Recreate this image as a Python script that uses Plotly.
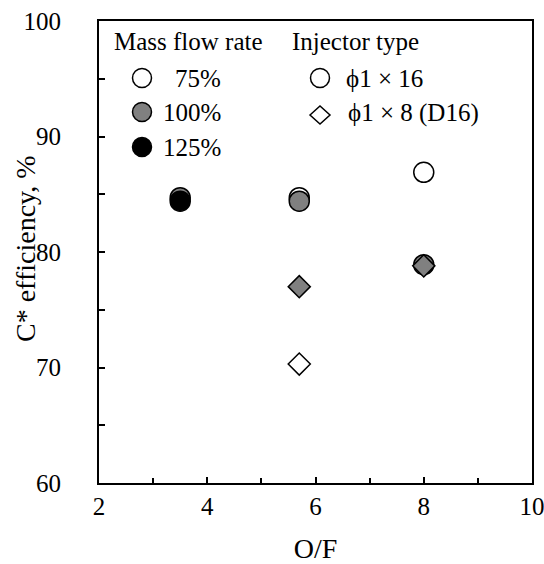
import plotly.graph_objects as go

# Injector phi1x16 (circles)
of_75_c = [5.7, 8.0]
eff_75_c = [84.7, 86.9]
of_100_c = [3.5, 5.7, 8.0]
eff_100_c = [84.7, 84.4, 78.9]
of_125_c = [3.5]
eff_125_c = [84.4]
# Injector phi1x8 (D16) (diamonds)
of_75_d = [5.7]
eff_75_d = [70.3]
of_100_d = [5.7, 8.0]
eff_100_d = [77.0, 78.8]

FONT = "Liberation Serif"
FS = 25
FT = 28
fig = go.Figure()

def add(x, y, sym, fill, size):
    fig.add_trace(go.Scatter(x=x, y=y, mode="markers", showlegend=False,
                             marker=dict(symbol=sym, size=size, color=fill,
                                         line=dict(color="black", width=1.5))))

add(of_75_c, eff_75_c, "circle", "white", 20)
add(of_100_c, eff_100_c, "circle", "#808080", 20)
add(of_125_c, eff_125_c, "circle", "black", 20)
add(of_75_d, eff_75_d, "diamond", "white", 17)
add(of_100_d, eff_100_d, "diamond", "#808080", 17)

fig.update_xaxes(range=[2, 10], tickmode="array", tickvals=[2, 4, 6, 8, 10],
                 ticks="inside", ticklen=6, tickwidth=1.5, tickcolor="black",
                 minor=dict(tickvals=[3, 5, 7, 9], ticks="inside", ticklen=5, tickwidth=1.5, tickcolor="black"),
                 showline=True, linecolor="black", linewidth=2, mirror=True,
                 showgrid=False, zeroline=False, ticklabelstandoff=0, automargin=False,
                 ticklabeloverflow="allow",
                 title=dict(text="O/F", font=dict(family=FONT, size=FT, color="black"), standoff=22),
                 tickfont=dict(family=FONT, size=FS, color="black"))
fig.update_yaxes(range=[60, 100], tickmode="array", tickvals=[60, 70, 80, 90, 100],
                 ticks="inside", ticklen=6, tickwidth=1.5, tickcolor="black",
                 minor=dict(tickvals=[65, 75, 85, 95], ticks="inside", ticklen=6, tickwidth=1.5, tickcolor="black"),
                 showline=True, linecolor="black", linewidth=2, mirror=True,
                 showgrid=False, zeroline=False, ticklabelstandoff=31, automargin=False,
                 ticklabeloverflow="allow",
                 tickfont=dict(family=FONT, size=FS, color="black"))

# Legend drawn as shapes + annotations (pixel positions converted to paper coords)
L, R, T, B = 99, 532, 21, 483
W, H = R - L, B - T
def px(x):
    return (x - L) / W
def py(y):
    return (B - y) / H

shapes = []
def circ(cx, cy, fill, r=9.5):
    shapes.append(dict(type="circle", xref="paper", yref="paper",
                       x0=px(cx - r), x1=px(cx + r), y0=py(cy + r), y1=py(cy - r),
                       fillcolor=fill, line=dict(color="black", width=1.5)))
def diam(cx, cy, rx=10, ry=9):
    path = "M {x0} {ym} L {xm} {y0} L {x1} {ym} L {xm} {y1} Z".format(
        x0=px(cx - rx), x1=px(cx + rx), xm=px(cx), ym=py(cy), y0=py(cy - ry), y1=py(cy + ry))
    shapes.append(dict(type="path", xref="paper", yref="paper", path=path,
                       fillcolor="white", line=dict(color="black", width=1.5)))

circ(142, 78, "white")
circ(142, 112, "#808080")
circ(142, 147, "black")
circ(320, 78, "white")
diam(320, 115)

anns = []
def txt(x, y, s, anchor="left", angle=0, size=FS):
    anns.append(dict(xref="paper", yref="paper", x=px(x), y=py(y), text=s, showarrow=False,
                     xanchor=anchor, yanchor="middle", textangle=angle,
                     font=dict(family=FONT, size=size, color="black")))

txt(112, 42, "Mass flow rate")
txt(290, 42, "Injector type")
txt(223, 78, "75%", "right")
txt(223, 112, "100%", "right")
txt(223, 147, "125%", "right")
txt(344, 78, "ϕ1 × 16")
txt(346, 113, "ϕ1 × 8 (D16)")
# y axis title
txt(25, 249, "C* efficiency, %", "center", -90, FT)

fig.update_layout(width=544, height=564, margin=dict(l=99, r=12, t=21, b=81),
                  plot_bgcolor="white", paper_bgcolor="white",
                  shapes=shapes, annotations=anns,
                  font=dict(family=FONT, size=FS, color="black"))

fig.write_html("out.html", config={"displayModeBar": False},
               post_script="document.body.style.margin='0px';document.body.style.overflow='hidden';")
